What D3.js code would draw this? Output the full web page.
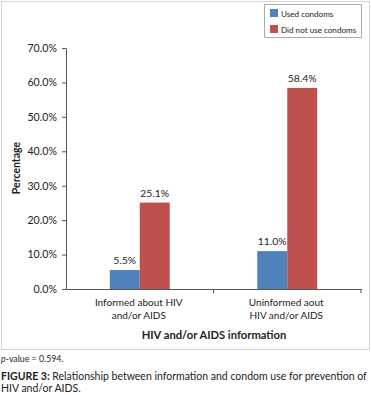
<!DOCTYPE html>
<html>
<head>
<meta charset="utf-8">
<script src="https://cdn.jsdelivr.net/npm/d3@7"></script>
<style>
  body { margin: 0; background: #fff; }
  svg text { font-family: Lato, "Open Sans", sans-serif; fill: #222; }
</style>
</head>
<body>
<svg id="chart" width="371" height="395"></svg>
<script>
// data
var categories = ["Informed about HIV|and/or AIDS", "Uninformed aout|HIV and/or AIDS"];
var seriesNames = ["Used condoms", "Did not use condoms"];
var usedCondoms = [5.5, 11.0];
var notUsedCondoms = [25.1, 58.4];
var yTicks = [0, 10, 20, 30, 40, 50, 60, 70];
var colors = ["#4F81BD", "#C0504D"];

var svg = d3.select("#chart");

// outer frame of the chart
svg.append("rect")
  .attr("x", 1.5).attr("y", 1.5)
  .attr("width", 368).attr("height", 348)
  .attr("fill", "none").attr("stroke", "#d4d4d4");

var plotLeft = 66, plotRight = 361, plotTop = 48, plotBottom = 289;

var x = d3.scaleBand().domain(categories).range([plotLeft, plotRight]).padding(0);
var xSub = d3.scaleBand().domain(seriesNames).range([0, x.bandwidth()]).paddingInner(0).paddingOuter(1.46);
var y = d3.scaleLinear().domain([0, 70]).range([plotBottom, plotTop]);

// y axis
var yAxis = svg.append("g")
  .attr("transform", "translate(" + plotLeft + ",0)")
  .call(d3.axisLeft(y).tickValues(yTicks).tickSize(4).tickSizeOuter(0)
    .tickFormat(function (d) { return d.toFixed(1) + "%"; }));
yAxis.selectAll("text").attr("font-size", 10.6).attr("dx", "-0.2em");
yAxis.selectAll("line, path").attr("stroke", "#555");

// x axis
var xAxis = svg.append("g")
  .attr("transform", "translate(0," + plotBottom + ")")
  .call(d3.axisBottom(x).tickSize(0).tickFormat(""));
xAxis.selectAll("path").attr("stroke", "#555");
// tick marks at band edges
svg.selectAll(".xtick")
  .data(categories)
  .join("line")
  .attr("x1", function (d) { return x(d) + x.bandwidth(); })
  .attr("x2", function (d) { return x(d) + x.bandwidth(); })
  .attr("y1", plotBottom).attr("y2", plotBottom + 4)
  .attr("stroke", "#555");

// category labels (two lines)
categories.forEach(function (c) {
  var t = svg.append("text")
    .attr("text-anchor", "middle")
    .attr("font-size", 10);
  c.split("|").forEach(function (line, i) {
    t.append("tspan")
      .attr("x", x(c) + x.bandwidth() / 2 - 1)
      .attr("y", 306 + i * 12.5)
      .text(line);
  });
});

// bars
var rows = categories.map(function (c, i) {
  return { cat: c, values: [usedCondoms[i], notUsedCondoms[i]] };
});
var groups = svg.selectAll(".grp")
  .data(rows)
  .join("g")
  .attr("transform", function (d) { return "translate(" + x(d.cat) + ",0)"; });

groups.selectAll("rect")
  .data(function (d) { return d.values.map(function (v, j) { return { name: seriesNames[j], v: v, j: j }; }); })
  .join("rect")
  .attr("x", function (d) { return xSub(d.name); })
  .attr("width", xSub.bandwidth())
  .attr("y", function (d) { return y(d.v); })
  .attr("height", function (d) { return plotBottom - y(d.v); })
  .attr("fill", function (d) { return colors[d.j]; });

groups.selectAll(".lbl")
  .data(function (d) { return d.values.map(function (v, j) { return { name: seriesNames[j], v: v }; }); })
  .join("text")
  .attr("class", "lbl")
  .attr("x", function (d) { return xSub(d.name) + xSub.bandwidth() / 2; })
  .attr("y", function (d) { return y(d.v) - 6; })
  .attr("text-anchor", "middle")
  .attr("font-size", 10.4)
  .text(function (d) { return d.v.toFixed(1) + "%"; });

// axis titles
svg.append("text")
  .attr("transform", "translate(20,168) rotate(-90)")
  .attr("text-anchor", "middle")
  .attr("font-size", 10.5)
  .attr("font-weight", "bold")
  .text("Percentage");

svg.append("text")
  .attr("x", 214).attr("y", 339)
  .attr("text-anchor", "middle")
  .attr("font-size", 11.2)
  .attr("font-weight", "bold")
  .text("HIV and/or AIDS information");

// legend
var legend = svg.append("g").attr("transform", "translate(264,4)");
legend.append("rect")
  .attr("x", 0.5).attr("y", 0.5).attr("width", 97).attr("height", 33)
  .attr("fill", "#fff").attr("stroke", "#aaa");
seriesNames.forEach(function (s, i) {
  legend.append("rect")
    .attr("x", 6).attr("y", 5 + i * 16)
    .attr("width", 8).attr("height", 8)
    .attr("fill", colors[i]);
  legend.append("text")
    .attr("x", 17).attr("y", 12.5 + i * 16)
    .attr("font-size", 8.1)
    .text(s);
});

// notes under the chart
var pv = svg.append("text").attr("x", 1).attr("y", 362).attr("font-size", 8.8);
pv.append("tspan").attr("font-style", "italic").text("p");
pv.append("tspan").text("-value = 0.594.");

var cap = svg.append("text").attr("x", 1).attr("y", 380).attr("font-size", 10.5);
cap.append("tspan").attr("font-weight", "bold").text("FIGURE 3:");
cap.append("tspan").text(" Relationship between information and condom use for prevention of");
svg.append("text").attr("x", 1).attr("y", 392).attr("font-size", 10.5)
  .text("HIV and/or AIDS.");
</script>
</body>
</html>
